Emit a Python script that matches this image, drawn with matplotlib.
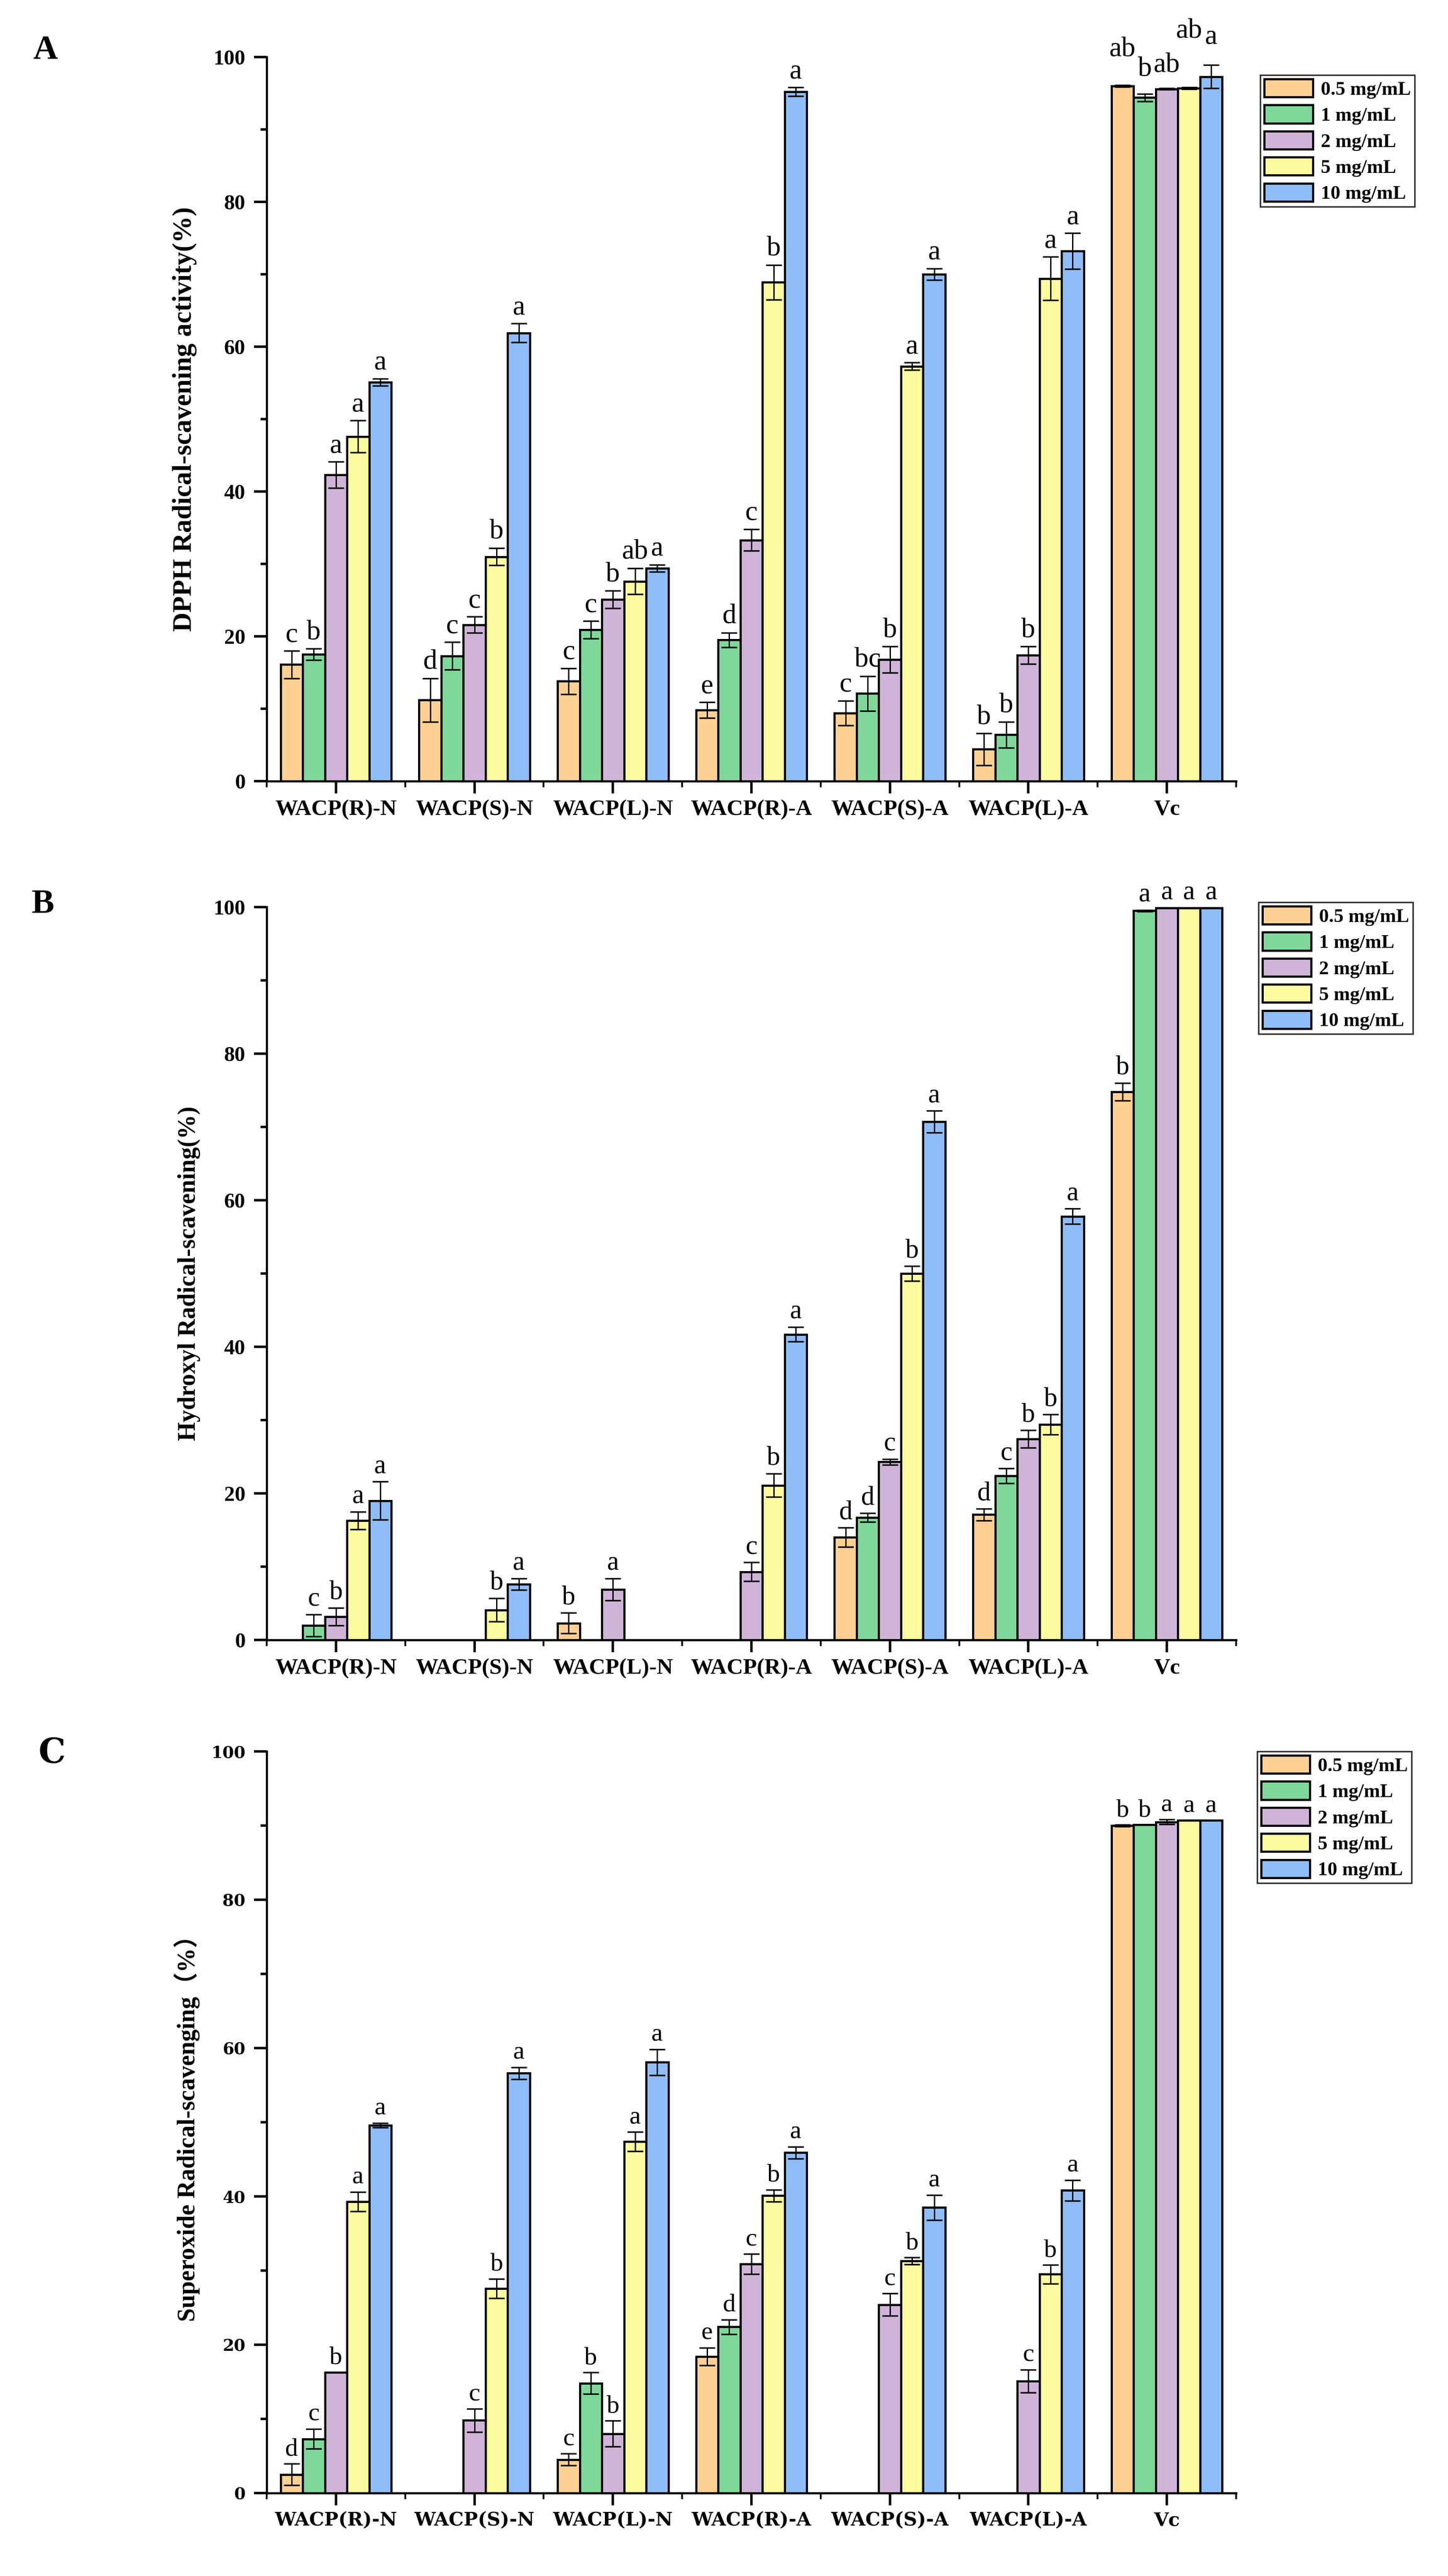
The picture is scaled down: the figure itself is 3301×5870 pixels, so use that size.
import numpy as np
import matplotlib
matplotlib.use("Agg")
import matplotlib.pyplot as plt
from matplotlib.patches import Patch
from matplotlib.ticker import MultipleLocator, FixedLocator

plt.rcParams['font.family'] = ['Liberation Serif', 'Noto Sans CJK SC']

nan = np.nan

groups = ["WACP(R)-N", "WACP(S)-N", "WACP(L)-N", "WACP(R)-A", "WACP(S)-A", "WACP(L)-A", "Vc"]
concentrations = ["0.5 mg/mL", "1 mg/mL", "2 mg/mL", "5 mg/mL", "10 mg/mL"]
colors = ["#FFD093", "#7FD89A", "#CFB4D8", "#FDFB9F", "#8FBDF8"]

# ---- Panel A: DPPH (rows = concentrations, columns = groups)
dpph_mean = [
    [16.1, 11.2, 13.8, 9.8, 9.4, 4.4, 96.0],
    [17.5, 17.3, 20.9, 19.5, 12.1, 6.4, 94.4],
    [42.3, 21.6, 25.1, 33.3, 16.8, 17.4, 95.6],
    [47.6, 31.0, 27.6, 68.9, 57.3, 69.4, 95.7],
    [55.1, 61.9, 29.4, 95.2, 70.0, 73.2, 97.3],
]
dpph_err = [
    [1.9, 3.0, 1.8, 1.1, 1.7, 2.2, 0.1],
    [0.8, 1.9, 1.2, 1.0, 2.4, 1.8, 0.5],
    [1.8, 1.1, 1.2, 1.5, 1.8, 1.2, 0.1],
    [2.2, 1.2, 1.8, 2.4, 0.5, 3.0, 0.1],
    [0.5, 1.3, 0.5, 0.6, 0.8, 2.5, 1.6],
]
dpph_letters = [
    ["c", "d", "c", "e", "c", "b", "ab"],
    ["b", "c", "c", "d", "bc", "b", "b"],
    ["a", "c", "b", "c", "b", "b", "ab"],
    ["a", "b", "ab", "b", "a", "a", "ab"],
    ["a", "a", "a", "a", "a", "a", "a"],
]

# ---- Panel B: Hydroxyl radical
hydroxyl_mean = [
    [nan, nan, 2.3, nan, 14.0, 17.1, 74.8],
    [2.0, nan, nan, nan, 16.7, 22.4, 99.5],
    [3.2, nan, 6.9, 9.3, 24.3, 27.4, 99.9],
    [16.3, 4.1, nan, 21.1, 50.0, 29.4, 99.9],
    [19.0, 7.6, nan, 41.7, 70.7, 57.8, 99.9],
]
hydroxyl_err = [
    [0, 0, 1.4, 0, 1.3, 0.8, 1.2],
    [1.5, 0, 0, 0, 0.6, 1.0, 0.1],
    [1.2, 0, 1.5, 1.3, 0.4, 1.2, 0.0],
    [1.2, 1.6, 0, 1.6, 1.0, 1.35, 0.0],
    [2.6, 0.8, 0, 1.0, 1.5, 1.05, 0.0],
]
hydroxyl_letters = [
    ["", "", "b", "", "d", "d", "b"],
    ["c", "", "", "", "d", "c", "a"],
    ["b", "", "a", "c", "c", "b", "a"],
    ["a", "b", "", "b", "b", "b", "a"],
    ["a", "a", "", "a", "a", "a", "a"],
]

# ---- Panel C: Superoxide radical
superoxide_mean = [
    [2.5, nan, 4.5, 18.4, nan, nan, 90.0],
    [7.3, nan, 14.8, 22.4, nan, nan, 90.1],
    [16.3, 9.8, 8.0, 30.9, 25.4, 15.1, 90.5],
    [39.3, 27.6, 47.4, 40.1, 31.3, 29.5, 90.7],
    [49.6, 56.6, 58.1, 45.9, 38.5, 40.8, 90.7],
]
superoxide_err = [
    [1.45, 0, 0.8, 1.2, 0, 0, 0.1],
    [1.35, 0, 1.45, 1.0, 0, 0, 0.0],
    [0.0, 1.55, 1.75, 1.35, 1.5, 1.55, 0.3],
    [1.3, 1.3, 1.3, 0.8, 0.45, 1.25, 0.0],
    [0.3, 0.8, 1.75, 0.8, 1.7, 1.4, 0.0],
]
superoxide_letters = [
    ["d", "", "c", "e", "", "", "b"],
    ["c", "", "b", "d", "", "", "b"],
    ["b", "c", "b", "c", "c", "c", "a"],
    ["a", "b", "a", "b", "b", "b", "a"],
    ["a", "a", "a", "a", "a", "a", "a"],
]

W, H = 3301, 5870
fig = plt.figure(figsize=(W / 100, H / 100), dpi=100)
fig.patch.set_facecolor("white")

AX_L, AX_R = 608, 2818


def rect(top_px, bottom_px):
    return [AX_L / W, 1 - bottom_px / H, (AX_R - AX_L) / W, (bottom_px - top_px) / H]


# extra vertical lift (points) of crowded letters over the Vc group in panel A
vc_lift_A = [32, 14, 11, 66, 20]

panels = [
    dict(mean=dpph_mean, err=dpph_err, letters=dpph_letters, top=130, bottom=1780,
         ylabel="DPPH Radical-scavening activity(%)", ylab_x=421, ylab_size=44,
         tag="A", tag_xy=(103, 116), tick_font="Liberation Serif", tick_size=35,
         xlab_size=37, letter_size=46, leg_xy=(2873, 171), vc_lift=vc_lift_A),
    dict(mean=hydroxyl_mean, err=hydroxyl_err, letters=hydroxyl_letters, top=2067, bottom=3737,
         ylabel="Hydroxyl Radical-scavening(%)", ylab_x=431, ylab_size=40,
         tag="B", tag_xy=(98, 2061), tick_font="Liberation Serif", tick_size=35,
         xlab_size=37, letter_size=44, leg_xy=(2869, 2056), vc_lift=None),
    dict(mean=superoxide_mean, err=superoxide_err, letters=superoxide_letters, top=3991, bottom=5681,
         ylabel="Superoxide Radical-scavenging（%）", ylab_x=426, ylab_size=40,
         tag="C", tag_xy=(119, 3995), tick_font="DejaVu Serif", tick_size=27,
         xlab_size=31, letter_size=42, leg_xy=(2866, 3991), vc_lift=None),
]

x = np.arange(1, len(groups) + 1)
bw = 0.16

for p in panels:
    ax = fig.add_axes(rect(p["top"], p["bottom"]))
    for i in range(len(concentrations)):
        vals = np.array(p["mean"][i], dtype=float)
        errs = np.array(p["err"][i], dtype=float)
        pos = x + (i - 2) * bw
        m = ~np.isnan(vals)
        ax.bar(pos[m], vals[m], bw, color=colors[i], edgecolor="black", linewidth=3.5, zorder=2)
        ax.errorbar(pos[m], vals[m], yerr=errs[m], fmt="none", ecolor="black",
                    elinewidth=2.2, capsize=13, capthick=2.5, zorder=3)
        for j, (xp, v, e, lab) in enumerate(zip(pos, vals, errs, p["letters"][i])):
            if np.isnan(v) or not lab:
                continue
            dy = 5
            if p["vc_lift"] is not None and j == len(groups) - 1:
                dy += p["vc_lift"][i]
            ax.annotate(lab, (xp, v + e), xytext=(0, dy), textcoords="offset points",
                        ha="center", va="bottom", fontsize=p["letter_size"],
                        annotation_clip=False, zorder=4)

    ax.set_xlim(0.5, 7.5)
    ax.set_ylim(0, 100)
    for s in ["top", "right"]:
        ax.spines[s].set_visible(False)
    for s in ["left", "bottom"]:
        ax.spines[s].set_linewidth(3.5)

    ax.set_xticks(x)
    ax.set_xticklabels(groups)
    ax.xaxis.set_minor_locator(FixedLocator(np.arange(0.5, 8.0, 1.0)))
    ax.yaxis.set_major_locator(MultipleLocator(20))
    ax.yaxis.set_minor_locator(MultipleLocator(10))
    ax.tick_params(axis="y", which="major", direction="out", length=21, width=4,
                   pad=14, labelsize=p["tick_size"])
    ax.tick_params(axis="y", which="minor", direction="out", length=10, width=4)
    ax.tick_params(axis="x", which="major", direction="out", length=20, width=4,
                   pad=10, labelsize=p["xlab_size"])
    ax.tick_params(axis="x", which="minor", direction="out", length=10, width=3)
    for lab in ax.get_yticklabels() + ax.get_xticklabels():
        lab.set_fontweight("bold")
        lab.set_family([p["tick_font"], "DejaVu Sans"])

    fig.text(p["ylab_x"] / W, 1 - (p["top"] + p["bottom"]) / 2 / H, p["ylabel"],
             rotation=90, ha="center", va="center", fontsize=p["ylab_size"], fontweight="bold",
             family=["Liberation Serif", "Noto Sans CJK SC"])
    fig.text(p["tag_xy"][0] / W, 1 - p["tag_xy"][1] / H, p["tag"], ha="center", va="center",
             fontsize=56, fontweight="bold", family=[p["tick_font"], "DejaVu Sans"])

    handles = [Patch(facecolor=c, edgecolor="black", linewidth=3.5, label=l)
               for c, l in zip(colors, concentrations)]
    leg = ax.legend(handles=handles, loc="upper left",
                    bbox_to_anchor=(p["leg_xy"][0] / W, 1 - p["leg_xy"][1] / H),
                    bbox_transform=fig.transFigure, borderaxespad=0,
                    handlelength=2.5, handleheight=1.05, labelspacing=0.33,
                    borderpad=0.2, handletextpad=0.4, fancybox=False, frameon=True,
                    prop={"weight": "bold", "size": 32, "family": "Liberation Serif"})
    leg.get_frame().set_edgecolor("black")
    leg.get_frame().set_linewidth(2.5)

fig.savefig("out.png", dpi=100, facecolor="white")
